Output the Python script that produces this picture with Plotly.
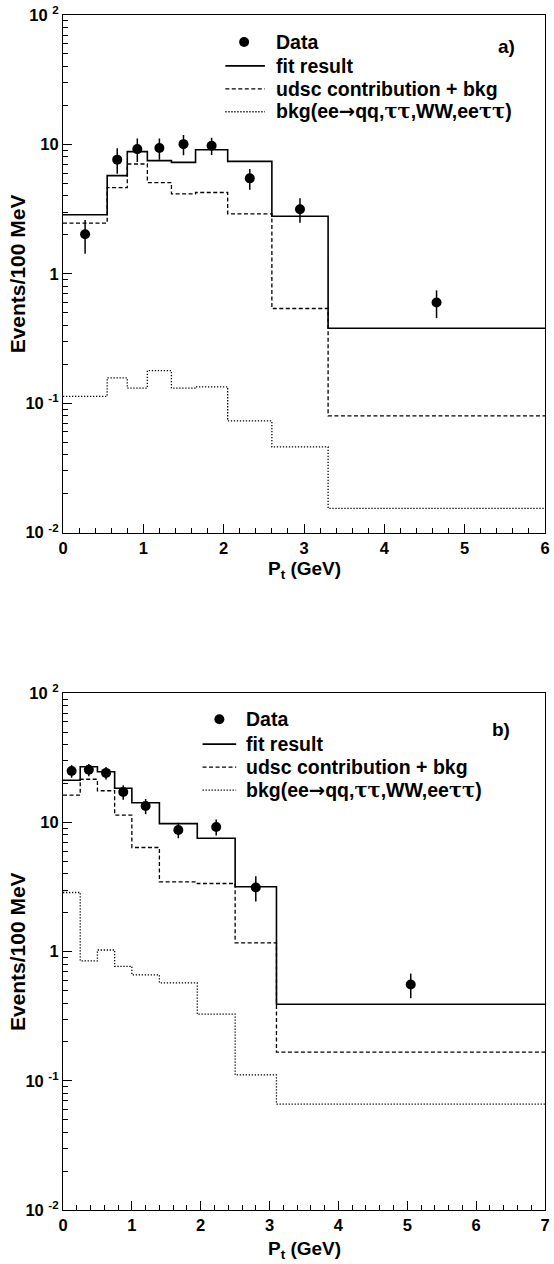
import numpy as np
import plotly.graph_objects as go

# ---------------- data: panel a ----------------
edges_a = [0.0, 0.55, 0.80, 1.05, 1.35, 1.65, 2.05, 2.60, 3.30, 6.0]
fit_a = [2.86, 5.74, 8.79, 7.50, 7.27, 9.10, 7.40, 2.79, 0.38]
udsc_a = [2.47, 4.64, 7.06, 5.07, 4.15, 4.25, 2.91, 0.54, 0.080]
bkg_a = [0.113, 0.157, 0.131, 0.179, 0.131, 0.134, 0.073, 0.046, 0.0154]
data_a = [2.02, 7.63, 9.20, 9.37, 10.05, 9.77, 5.47, 3.16, 0.60]
err_a = [0.59, 1.70, 1.90, 1.75, 1.80, 1.50, 1.00, 0.68, 0.145]

# ---------------- data: panel b ----------------
edges_b = [0.0, 0.25, 0.50, 0.75, 1.00, 1.40, 1.95, 2.50, 3.10, 7.0]
fit_b = [21.2, 27.0, 24.7, 18.4, 14.2, 9.8, 7.55, 3.18, 0.392]
udsc_b = [16.3, 21.6, 17.6, 11.4, 6.4, 3.47, 3.37, 1.17, 0.167]
bkg_b = [2.87, 0.848, 1.03, 0.77, 0.66, 0.573, 0.328, 0.111, 0.066]
data_b = [25.0, 25.6, 24.2, 17.2, 13.4, 8.75, 9.23, 3.14, 0.556]
err_b = [2.8, 2.8, 2.7, 2.2, 1.8, 1.2, 1.3, 0.70, 0.12]

y_tickvals = [0.01, 0.1, 1, 10, 100]
y_ticktext = ["10 <sup>-2</sup>", "10 <sup>-1</sup>", "1", "10", "10 <sup>2</sup>"]
xa_tickvals = [0, 1, 2, 3, 4, 5, 6]
xb_tickvals = [0, 1, 2, 3, 4, 5, 6, 7]
TAU = "<span style='font-family:DejaVu Serif'>\u03c4\u03c4</span>"
ARROW = "<span style='font-family:DejaVu Sans'>\u2192</span>"
legend_names = ["Data", "fit result", "udsc contribution + bkg",
                "bkg(ee" + ARROW + "qq," + TAU + ",WW,ee" + TAU + ")"]
panel_tags = ["a)", "b)"]
x_title = "P<sub>t</sub> (GeV)"
y_title = "Events/100 MeV"

FONT = "Liberation Sans, Arial, Helvetica, sans-serif"

W, H = 554, 1264
ML, MR, MT, MB = 63, 4, 12, 54
PW = W - ML - MR
PH = H - MT - MB


def py(pix):
    return (H - MB - pix) / PH


def px(pix):
    return (pix - ML) / PW


LINE_STYLES = [
    dict(color="black", width=1.6),
    dict(color="black", width=1.3, dash="4px,2.5px"),
    dict(color="black", width=1.3, dash="1.3px,1.7px"),
]

fig = go.Figure()


def add_panel(edges, fit, udsc, bkg, data, err, xa, ya):
    centers = 0.5 * (np.array(edges[:-1]) + np.array(edges[1:]))
    xs = list(edges)
    fig.add_trace(go.Scatter(
        x=list(centers), y=data, mode="markers", name=legend_names[0],
        marker=dict(color="black", size=10),
        error_y=dict(type="data", array=err, color="black", thickness=1.5, width=0),
        xaxis=xa, yaxis=ya, showlegend=False))
    for vals, name, line in zip([fit, udsc, bkg], legend_names[1:], LINE_STYLES):
        fig.add_trace(go.Scatter(
            x=xs, y=list(vals) + [vals[-1]], mode="lines", line_shape="hv",
            name=name, line=line, xaxis=xa, yaxis=ya, showlegend=False))


add_panel(edges_a, fit_a, udsc_a, bkg_a, data_a, err_a, "x", "y")
add_panel(edges_b, fit_b, udsc_b, bkg_b, data_b, err_b, "x2", "y2")

xcommon = dict(showline=True, linecolor="black", linewidth=1.2, mirror=True,
               ticks="inside", ticklen=9, tickwidth=1, tickcolor="black",
               showgrid=False, zeroline=False, ticklabeloverflow="allow",
               tickfont=dict(family=FONT, size=16.5, color="black"),
               minor=dict(ticks="inside", ticklen=5, tickcolor="black", dtick=0.2, tick0=0))
ycommon = dict(type="log", range=[-2, 2], showline=True, linecolor="black", linewidth=1.2,
               mirror=True, ticks="inside", ticklen=9, tickwidth=1, tickcolor="black",
               showgrid=False, zeroline=False, tickvals=y_tickvals,
               ticktext=["<b>%s</b>" % t for t in y_ticktext],
               tickfont=dict(family=FONT, size=16.5, color="black"),
               minor=dict(ticks="inside", ticklen=5, tickcolor="black",
                          tickmode="array",
                          tickvals=[m * 10.0 ** e for e in range(-2, 2) for m in range(2, 10)]))

top_a, bot_a = 12, 531
top_b, bot_b = 692, 1210

fig.update_layout(
    width=W, height=H, margin=dict(l=ML, r=MR, t=MT, b=MB),
    paper_bgcolor="white", plot_bgcolor="white",
    font=dict(family=FONT, color="black"),
    showlegend=False, hovermode=False,
    xaxis=dict(domain=[0, 1], range=[0, 6], anchor="y", tickvals=xa_tickvals,
               ticktext=["<b>%d</b>" % v for v in xa_tickvals], **xcommon),
    yaxis=dict(domain=[py(bot_a), py(top_a)], anchor="x", **ycommon),
    xaxis2=dict(domain=[0, 1], range=[0, 7], anchor="y2", tickvals=xb_tickvals,
                ticktext=["<b>%d</b>" % v for v in xb_tickvals], **xcommon),
    yaxis2=dict(domain=[py(bot_b), py(top_b)], anchor="x2", **ycommon),
)


def txt(text, x, y, size, xanchor="center", angle=0):
    fig.add_annotation(xref="paper", yref="paper", showarrow=False,
                       x=px(x), y=py(y), xanchor=xanchor, yanchor="middle",
                       textangle=angle, text="<b>%s</b>" % text,
                       font=dict(family=FONT, size=size, color="black"))


# legends (drawn by hand to match ROOT layout)
LEG_FS = 19.5
for (line_x0, line_x1, mark_x, text_x, rows) in [
        (227, 267, 246, 276, [39, 63, 86, 109]),
        (204, 238, 221, 246, [718, 743, 766, 789])]:
    fig.add_shape(type="circle", xref="paper", yref="paper",
                  xsizemode="pixel", ysizemode="pixel",
                  xanchor=px(mark_x), yanchor=py(rows[0]),
                  x0=-5, x1=5, y0=-5, y1=5,
                  fillcolor="black", line=dict(color="black", width=0))
    for r, ls in zip(rows[1:], LINE_STYLES):
        fig.add_shape(type="line", xref="paper", yref="paper",
                      x0=px(line_x0), x1=px(line_x1), y0=py(r), y1=py(r),
                      line=ls)
    for r, name in zip(rows, legend_names):
        txt(name, text_x, r, LEG_FS, xanchor="left")

txt(panel_tags[0], 511, 44, 19)
txt(panel_tags[1], 506, 728, 19)
txt(x_title, 307, 568, 19)
txt(x_title, 307, 1250, 19)
txt(y_title, 17, (top_a + bot_a) / 2, 21, angle=-90)
txt(y_title, 17, (top_b + bot_b) / 2, 21, angle=-90)

fig.write_html("out.html", config={"displayModeBar": False},
               post_script="document.body.style.margin='0';document.body.style.padding='0';")
